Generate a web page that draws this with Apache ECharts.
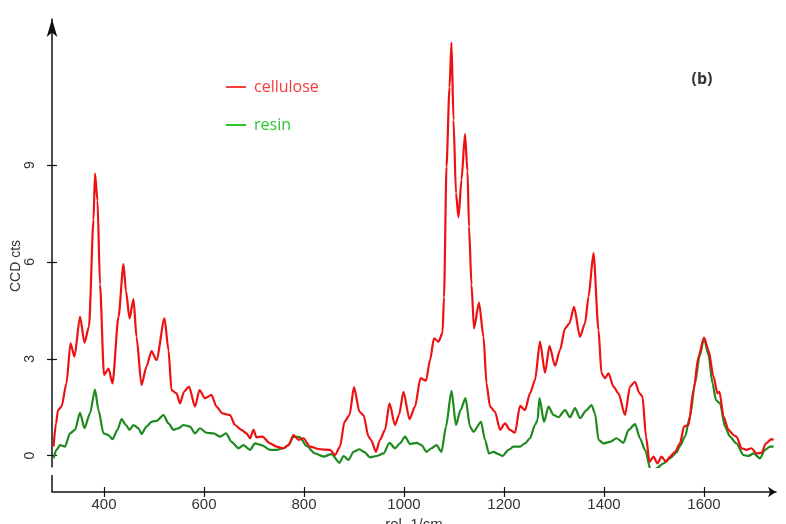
<!DOCTYPE html>
<html>
<head>
<meta charset="utf-8">
<script src="https://cdn.jsdelivr.net/npm/echarts@6/dist/echarts.min.js"></script>
<style>
  html, body { margin: 0; padding: 0; background: #fff; }
  #chart { width: 786px; height: 524px; }
</style>
</head>
<body>
<div id="chart"></div>
<script>
// Raman spectra, CCD counts against Raman shift (rel. 1/cm)
const cellWave = [299,304,308,315,325,333,341,352,361,370,379,382,387,392,400,409,417,429,439,444,451,459,465,475,485,495,505,521,529,535,545,552,560,570,582,591,602,615,625,637,652,662,675,685,692,699,705,717,732,745,759,769,779,789,799,812,832,852,862,872,881,891,900,911,919,929,934,944,952,962,971,982,990,999,1011,1022,1033,1044,1052,1060,1069,1077,1080,1085,1091,1095,1099,1104,1109,1115,1122,1127,1130,1135,1140,1150,1159,1165,1172,1182,1192,1202,1212,1222,1232,1242,1252,1262,1272,1282,1291,1302,1312,1322,1331,1340,1352,1362,1369,1379,1389,1395,1402,1409,1419,1429,1442,1452,1462,1471,1477,1484,1491,1499,1507,1515,1524,1532,1542,1552,1560,1569,1579,1589,1600,1609,1619,1627,1631,1639,1649,1659,1665,1675,1685,1695,1705,1715,1724,1735,1739];
const cellCounts = [0.28,1.0,1.41,1.52,2.25,3.48,3.07,4.3,3.5,4.0,7.3,8.74,7.9,5.3,2.5,2.7,2.24,4.3,5.93,5.1,4.25,4.85,3.68,2.19,2.76,3.24,2.96,4.25,3.27,2.03,1.93,1.62,1.98,2.14,1.52,2.03,1.78,1.88,1.52,1.31,1.26,0.95,0.8,0.69,0.54,0.8,0.57,0.59,0.38,0.28,0.23,0.33,0.64,0.49,0.54,0.28,0.2,0.18,0.02,0.28,1.05,1.26,2.12,1.36,1.26,0.59,0.49,0.12,0.49,0.8,1.62,0.95,1.26,1.98,1.13,1.52,2.4,2.32,2.96,3.63,3.53,3.8,4.9,8.95,11.4,12.79,10.4,8.12,7.38,8.54,9.96,8.8,7.09,5.3,3.94,4.74,3.68,2.24,1.52,1.36,0.8,1.0,0.8,0.71,1.54,1.41,1.93,2.34,3.53,2.57,3.4,2.78,3.27,3.94,4.1,4.61,3.68,4.1,4.92,6.27,3.89,2.55,2.4,2.55,2.14,1.93,1.26,2.14,2.29,1.93,1.83,0.59,-0.19,-0.03,-0.24,-0.03,-0.19,-0.03,0.12,0.38,0.9,0.95,2.03,3.07,3.66,3.27,2.45,1.93,1.98,1.21,0.8,0.64,0.59,0.23,0.18,0.23,0.07,0.09,0.38,0.51,0.48];

const resinWave = [299,305,312,322,332,342,352,361,372,382,389,399,409,417,427,435,444,451,459,469,475,485,495,505,519,529,539,549,559,572,582,592,605,619,632,644,655,669,679,692,702,715,732,745,759,769,779,792,805,822,839,855,871,879,889,899,911,920,932,945,959,971,982,992,1002,1012,1025,1035,1045,1055,1065,1075,1084,1095,1104,1113,1123,1132,1139,1154,1162,1170,1179,1189,1197,1209,1219,1232,1242,1252,1262,1267,1271,1280,1289,1299,1309,1322,1332,1342,1352,1365,1375,1382,1389,1399,1412,1425,1439,1449,1462,1472,1482,1495,1505,1519,1532,1545,1552,1562,1572,1582,1591,1600,1609,1617,1624,1632,1642,1652,1665,1679,1689,1699,1712,1722,1732,1739];
const resinCounts = [-0.08,0.18,0.33,0.28,0.69,0.8,1.33,0.85,1.31,2.05,1.41,0.69,0.64,0.51,0.8,1.13,0.95,0.8,0.95,0.85,0.67,0.9,1.05,1.08,1.26,1.0,0.8,0.85,0.95,0.9,0.69,0.85,0.71,0.69,0.59,0.69,0.43,0.23,0.33,0.18,0.38,0.33,0.18,0.18,0.23,0.33,0.59,0.57,0.3,0.07,-0.03,0.05,-0.22,-0.01,-0.13,0.12,0.2,0.12,-0.05,-0.01,0.07,0.4,0.23,0.38,0.59,0.36,0.4,0.33,0.12,0.23,0.33,0.12,0.9,2.01,0.95,1.41,1.78,0.9,0.74,1.05,0.49,0.07,0.12,0.05,-0.01,0.18,0.28,0.28,0.38,0.54,0.95,1.1,1.78,1.05,1.52,1.26,1.19,1.41,1.19,1.47,1.16,1.41,1.57,1.31,0.49,0.38,0.43,0.54,0.4,0.8,0.98,0.54,0.18,-0.54,-0.39,-0.24,-0.08,0.1,0.3,0.59,1.21,2.24,3.07,3.63,3.12,2.24,1.72,1.62,0.9,0.59,0.38,0.02,-0.01,0.07,-0.08,0.18,0.28,0.28];

const xTicks = [400, 600, 800, 1000, 1200, 1400, 1600];
const yTicks = [0, 3, 6, 9];

const seriesNames = ['cellulose', 'resin'];
const lineColors = ['#ee1111', '#1e8a1e'];
const legendColors = ['#f43c3c', '#2ec42e'];

const axisColor = '#111';
const labelFont = { fontFamily: 'Liberation Sans', color: '#333' };
const plain = v => String(v);

const toPairs = (xs, ys) => xs.map((x, i) => [x, ys[i]]);

const chart = echarts.init(document.getElementById('chart'), null, { renderer: 'canvas' });

const xRange = { min: 296, max: 1744 };
const yRange = { min: -0.35, max: 13.52 };

chart.setOption({
  animation: false,
  backgroundColor: '#fff',
  grid: { left: 52, right: 10, top: 19, bottom: 57, containLabel: false, outerBoundsMode: 'none' },
  legend: {
    orient: 'vertical',
    left: 226,
    top: 78,
    padding: 0,
    itemWidth: 20,
    itemHeight: 2,
    itemGap: 20,
    icon: 'rect',
    selectedMode: false,
    textStyle: { fontFamily: 'Open Sans', fontSize: 16, lineHeight: 18, padding: [0, 0, 0, 3] },
    data: seriesNames.map((n, i) => ({
      name: n,
      itemStyle: { color: legendColors[i] },
      textStyle: { color: legendColors[i] }
    }))
  },
  xAxis: [
    {
      type: 'value', ...xRange, offset: 25,
      axisLine: { show: true, onZero: false, symbol: ['none', 'arrow'], symbolSize: [8, 8], lineStyle: { color: axisColor, width: 1.5 } },
      axisTick: { show: true, length: 5, customValues: xTicks, lineStyle: { color: axisColor, width: 1.2 } },
      axisLabel: { show: true, customValues: xTicks, formatter: plain, margin: 5, fontSize: 15, ...labelFont },
      splitLine: { show: false },
      name: 'rel. 1/cm', nameLocation: 'middle', nameGap: 18,
      nameTextStyle: { fontSize: 15, ...labelFont }
    },
    {
      type: 'value', ...xRange, offset: 25, position: 'bottom',
      axisLine: { show: false, onZero: false },
      axisTick: { show: true, inside: true, length: 5, customValues: xTicks, lineStyle: { color: axisColor, width: 1.2 } },
      axisLabel: { show: false },
      splitLine: { show: false }
    }
  ],
  yAxis: [
    {
      type: 'value', ...yRange,
      axisLine: { show: true, onZero: false, symbol: ['none', 'arrow'], symbolSize: [8, 18], lineStyle: { color: axisColor, width: 1.5 } },
      axisTick: { show: true, length: 5, customValues: yTicks, lineStyle: { color: axisColor, width: 1.2 } },
      axisLabel: { show: true, customValues: yTicks, formatter: plain, rotate: 90, margin: 15, fontSize: 14, ...labelFont },
      splitLine: { show: false }
    },
    {
      type: 'value', ...yRange, position: 'left',
      axisLine: { show: false, onZero: false },
      axisTick: { show: true, inside: true, length: 5, customValues: yTicks, lineStyle: { color: axisColor, width: 1.2 } },
      axisLabel: { show: false },
      splitLine: { show: false }
    }
  ],
  graphic: [
    { type: 'line', shape: { x1: 52, y1: 475, x2: 52, y2: 492 }, style: { stroke: axisColor, lineWidth: 1.5 } },
    { type: 'text', x: 16, y: 266, rotation: Math.PI / 2,
      style: { text: 'CCD cts', fontFamily: 'Liberation Sans', fontSize: 14, fill: '#333', align: 'center', verticalAlign: 'middle' } },
    { type: 'text', x: 702, y: 79,
      style: { text: '(b)', fontFamily: 'Open Sans', fontWeight: 'bold', fontSize: 16, fill: '#333', align: 'center', verticalAlign: 'middle' } }
  ],
  series: [
    {
      name: seriesNames[0], type: 'line', xAxisIndex: 0, yAxisIndex: 0,
      data: toPairs(cellWave, cellCounts),
      showSymbol: false, symbol: 'none', smooth: 0.25, smoothMonotone: 'x',
      lineStyle: { color: lineColors[0], width: 2.2 }, itemStyle: { color: lineColors[0] }, z: 3
    },
    {
      name: seriesNames[1], type: 'line', xAxisIndex: 0, yAxisIndex: 0,
      data: toPairs(resinWave, resinCounts),
      showSymbol: false, symbol: 'none', smooth: 0.25, smoothMonotone: 'x',
      lineStyle: { color: lineColors[1], width: 2.2 }, itemStyle: { color: lineColors[1] }, z: 2
    }
  ]
});
</script>
</body>
</html>
